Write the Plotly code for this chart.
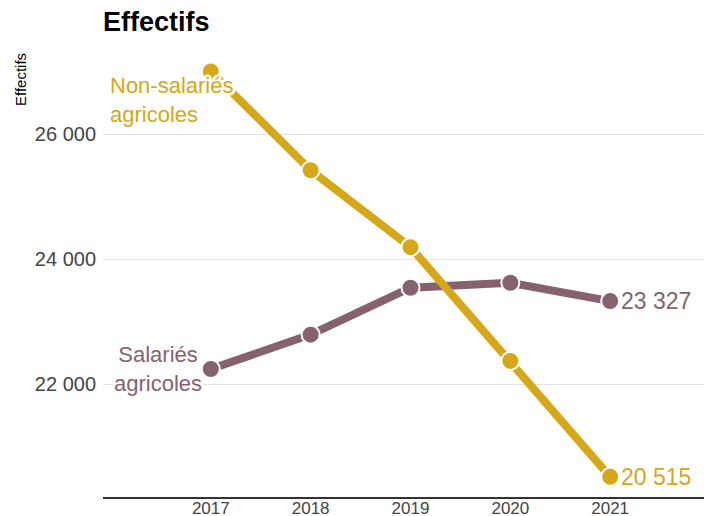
import plotly.graph_objects as go

years = [2017, 2018, 2019, 2020, 2021]
salaries = [22240, 22790, 23540, 23620, 23327]
non_salaries = [27000, 25420, 24190, 22370, 20515]
ytick_vals = [22000, 24000, 26000]
ytick_text = ["22 000", "24 000", "26 000"]

GOLD = "#D6A717"
PURPLE = "#866271"
FONT = "Liberation Sans, Arial"
HALO = ("white 2px 0px 0px, white -2px 0px 0px, white 0px 2px 0px, white 0px -2px 0px, "
        "white 2px 2px 0px, white -2px -2px 0px, white 2px -2px 0px, white -2px 2px 0px, "
        "white 3px 0px 1px, white -3px 0px 1px, white 0px 3px 1px, white 0px -3px 1px")

# page body adds an 8px offset; figure coordinates are screen - 8
OFF = 8
W, H = 712, 516
L, R, T, B = 103 - OFF, W - (710 - OFF), 40 - OFF, H - (497 - OFF)
PW, PH = W - L - R, H - T - B

fig = go.Figure()
fig.add_trace(go.Scatter(
    x=years, y=salaries, mode="lines+markers",
    line=dict(color=PURPLE, width=8),
    marker=dict(size=18, color=PURPLE, line=dict(color="white", width=2)),
    hoverinfo="skip", showlegend=False))
fig.add_trace(go.Scatter(
    x=years, y=non_salaries, mode="lines+markers",
    line=dict(color=GOLD, width=8),
    marker=dict(size=18, color=GOLD, line=dict(color="white", width=2)),
    hoverinfo="skip", showlegend=False))

fig.add_annotation(x=years[-1], y=salaries[-1], xref="x", yref="y",
                   text="23 327", showarrow=False, xanchor="left", xshift=9,
                   font=dict(color=PURPLE, size=23, family=FONT))
fig.add_annotation(x=years[-1], y=non_salaries[-1], xref="x", yref="y",
                   text="20 515", showarrow=False, xanchor="left", xshift=9,
                   font=dict(color=GOLD, size=23, family=FONT))
fig.add_annotation(x=2015.97, y=26540, xref="x", yref="y",
                   text="Non-salariés<br>agricoles", showarrow=False,
                   xanchor="left", align="left",
                   font=dict(color=GOLD, size=22, family=FONT, shadow=HALO))
fig.add_annotation(x=2016.93, y=22240, xref="x", yref="y",
                   text="Salariés<br>agricoles", showarrow=False,
                   xanchor="right", align="center",
                   font=dict(color=PURPLE, size=22, family=FONT, shadow=HALO))
fig.add_annotation(x=(20 - 103) / PW, y=(497 - 80) / PH, xref="paper", yref="paper",
                   text="Effectifs", showarrow=False, textangle=-90,
                   xanchor="center", yanchor="middle",
                   font=dict(color="black", size=15, family=FONT))

fig.update_layout(
    width=W, height=H,
    paper_bgcolor="white", plot_bgcolor="white",
    margin=dict(l=L, r=R, t=T, b=B, autoexpand=False),
    title=dict(text="<b>Effectifs</b>", x=L / W, xanchor="left",
               y=1 - (22 - OFF) / H, yanchor="middle",
               font=dict(size=27, color="black", family=FONT)),
    font=dict(family=FONT),
    xaxis=dict(range=[2015.92, 2022.0], tickvals=years,
               ticktext=[str(y) for y in years],
               showgrid=False, zeroline=False,
               showline=True, linecolor="#333333", linewidth=1.5,
               ticks="", ticklabelstandoff=-5,
               tickfont=dict(size=17, color="#444444")),
    yaxis=dict(range=[20192, 27504], tickvals=ytick_vals, ticktext=ytick_text,
               showgrid=True, gridcolor="#e3e3e3", gridwidth=1,
               zeroline=False, showline=False, ticks="",
               ticklabelstandoff=6,
               tickfont=dict(size=20, color="#444444")),
)

fig.write_html("out.html")
